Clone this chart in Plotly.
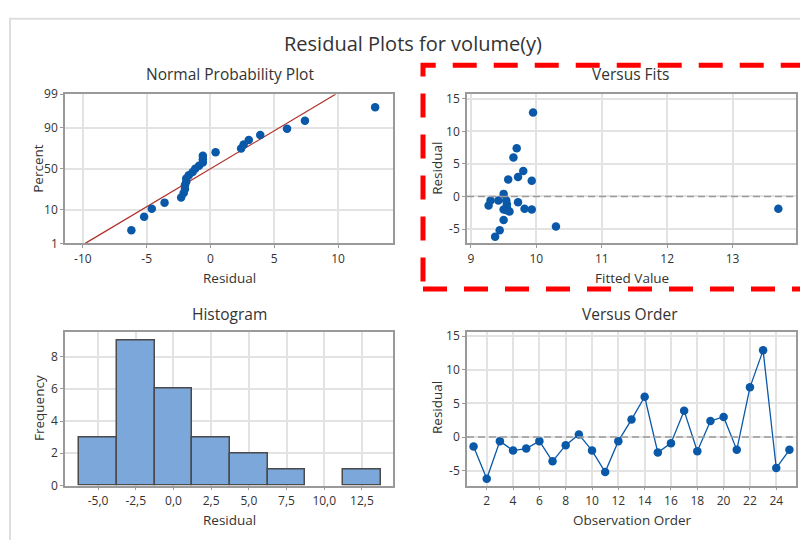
import plotly.graph_objects as go
from statistics import NormalDist, mean, stdev

# ---- data ----
order = list(range(1, 26))
residuals = [-1.4, -6.2, -0.6, -2.0, -1.7, -0.6, -3.6, -1.2, 0.4, -2.0,
             -5.2, -0.6, 2.6, 6.0, -2.3, -0.9, 3.9, -2.1, 2.4, 3.0,
             -1.9, 7.4, 12.9, -4.6, -1.9]
fitted = [9.27, 9.37, 9.30, 9.50, 9.55, 9.42, 9.50, 9.55, 9.50, 9.93,
          9.44, 9.54, 9.57, 9.65, 9.59, 9.72, 9.80, 9.55, 9.93, 9.72,
          9.82, 9.70, 9.95, 10.30, 13.70]
pct_ticks = [1, 10, 50, 90, 99]
npp_x_ticks = [-10, -5, 0, 5, 10]
fit_x_ticks = [9, 10, 11, 12, 13]
res_y_ticks = [-5, 0, 5, 10, 15]
hist_x_ticks = [-5.0, -2.5, 0.0, 2.5, 5.0, 7.5, 10.0, 12.5]
hist_y_ticks = [0, 2, 4, 6, 8]
order_x_ticks = [2, 4, 6, 8, 10, 12, 14, 16, 18, 20, 22, 24]

# ---- derived ----
nd = NormalDist()
n = len(residuals)
srt = sorted(residuals)
z_pts = [nd.inv_cdf((i + 1 - 0.3) / (n + 0.4)) for i in range(n)]
mu, sd = mean(residuals), stdev(residuals)
zlo, zhi = nd.inv_cdf(0.01), nd.inv_cdf(0.99)
line_z = [zlo, zhi]
line_x = [mu + sd * z for z in line_z]

W, H = 800, 540
def px(x): return x / W
def py(y): return 1 - y / H

BLUE = "#0a58a8"
TXT = "#333333"
GRID = "#e3e3e3"
FONT = "Open Sans"

fig = go.Figure()

# Normal probability plot
fig.add_trace(go.Scatter(x=line_x, y=line_z, mode="lines",
                         line=dict(color="#b0302a", width=1.2),
                         xaxis="x", yaxis="y", showlegend=False))
fig.add_trace(go.Scatter(x=srt, y=z_pts, mode="markers",
                         marker=dict(color=BLUE, size=8.5),
                         xaxis="x", yaxis="y", showlegend=False))
# Versus fits
fig.add_trace(go.Scatter(x=fitted, y=residuals, mode="markers",
                         marker=dict(color=BLUE, size=8.5),
                         xaxis="x2", yaxis="y2", showlegend=False))
# Histogram
fig.add_trace(go.Histogram(x=residuals, xbins=dict(start=-6.25, end=13.75, size=2.5),
                           marker=dict(color="#7ba7da", line=dict(color="#4a4a4a", width=1.5)),
                           xaxis="x3", yaxis="y3", showlegend=False))
# Versus order
fig.add_trace(go.Scatter(x=order, y=residuals, mode="lines+markers",
                         line=dict(color=BLUE, width=1.3),
                         marker=dict(color=BLUE, size=8.5),
                         xaxis="x4", yaxis="y4", showlegend=False))

def ax(domain, rng, tickvals, ticktext, anchor, showgrid=True):
    return dict(domain=domain, range=rng, tickvals=tickvals, ticktext=ticktext,
                anchor=anchor, showgrid=showgrid, gridcolor=GRID, gridwidth=1.5,
                showline=True, linecolor="#9a9a9a", linewidth=1.5, mirror=True,
                ticks="outside", ticklen=3, tickcolor="#9a9a9a",
                tickfont=dict(size=12, color=TXT, family=FONT),
                zeroline=False, fixedrange=True)

xL = [px(65), px(393)]
xR = [px(467), px(796)]
yT = [py(242), py(88)]
yB = [py(492), py(333)]

fig.update_layout(
    width=W, height=H, margin=dict(l=0, r=0, t=0, b=0),
    paper_bgcolor="white", plot_bgcolor="white", bargap=0,
    font=dict(family=FONT, color=TXT),
    xaxis=ax(xL, [-11.4, 14.3], npp_x_ticks, [str(v) for v in npp_x_ticks], "y"),
    yaxis=ax(yT, [zlo, zhi], [nd.inv_cdf(p / 100) for p in pct_ticks], [str(p) for p in pct_ticks], "x"),
    xaxis2=ax(xR, [8.94, 13.97], fit_x_ticks, [str(v) for v in fit_x_ticks], "y2"),
    yaxis2=ax(yT, [-7.2, 15.7], res_y_ticks, [str(v) for v in res_y_ticks], "x2"),
    xaxis3=ax(xL, [-7.19, 14.56], hist_x_ticks, [f"{v:.1f}".replace(".", ",") for v in hist_x_ticks], "y3"),
    yaxis3=ax(yB, [0, 9.56], hist_y_ticks, [str(v) for v in hist_y_ticks], "x3"),
    xaxis4=ax(xR, [0.5, 25.5], order_x_ticks, [str(v) for v in order_x_ticks], "y4"),
    yaxis4=ax(yB, [-7.2, 15.7], res_y_ticks, [str(v) for v in res_y_ticks], "x4"),
)

shapes = [
    # outer light frame
    dict(type="rect", xref="paper", yref="paper", x0=px(10), x1=px(812), y0=py(552), y1=py(10),
         line=dict(color="#dedede", width=2), layer="below"),
    # reference zero lines
    dict(type="line", xref="x2 domain", yref="y2", x0=0, x1=1, y0=0, y1=0,
         line=dict(color="#9a9a9a", width=1.5, dash="7px,4px")),
    dict(type="line", xref="x4 domain", yref="y4", x0=0, x1=1, y0=0, y1=0,
         line=dict(color="#9a9a9a", width=1.5, dash="7px,4px")),
    # red dashed highlight
    dict(type="rect", xref="paper", yref="paper", x0=px(423), x1=px(830), y0=py(289), y1=py(58),
         line=dict(color="#ff0000", width=5, dash="24px,17px")),
]
fig.update_layout(shapes=shapes)

ann = []
def txt(x, y, s, size, angle=0, color=TXT):
    ann.append(dict(x=px(x), y=py(y), xref="paper", yref="paper", text=s, showarrow=False,
                    textangle=angle, xanchor="center", yanchor="middle",
                    font=dict(size=size, color=color, family=FONT)))

txt(413, 36, "Residual Plots for volume(y)", 20, color="#333333")
txt(230, 67, "Normal Probability Plot", 15.5)
txt(630, 67, "Versus Fits", 15.5)
txt(230, 315, "Histogram", 15.5)
txt(630, 315, "Versus Order", 15.5)
txt(230, 278, "Residual", 13.5)
txt(632, 278, "Fitted Value", 13.5)
txt(230, 528, "Residual", 13.5)
txt(632, 528, "Observation Order", 13.5)
txt(38, 165, "Percent", 13.5, angle=-90)
txt(437, 165, "Residual", 13.5, angle=-90)
txt(39, 412, "Frequency", 13.5, angle=-90)
txt(437, 412, "Residual", 13.5, angle=-90)
fig.update_layout(annotations=ann)

fig.write_html("out.html")
